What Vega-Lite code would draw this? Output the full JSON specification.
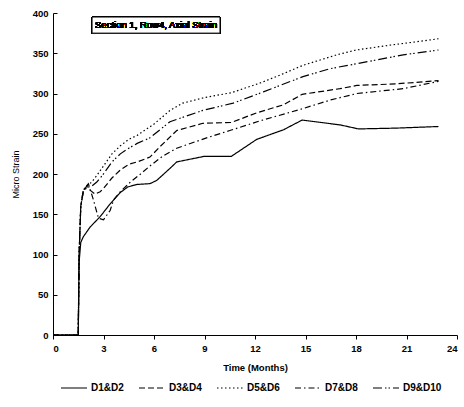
{
  "$schema": "https://vega.github.io/schema/vega-lite/v6.json",
  "width": 404,
  "height": 322,
  "autosize": "none",
  "padding": {"left": 53, "top": 13, "right": 7, "bottom": 72},
  "config": {
    "view": {"stroke": null},
    "font": "Liberation Sans",
    "axis": {"grid": false, "domainColor": "black", "tickColor": "black", "labelColor": "black", "titleColor": "black", "labelFont": "Liberation Sans", "titleFont": "Liberation Sans"}
  },
  "data": {
    "values": [
      {"s": "D1&D2", "t": 0, "v": 0}, {"s": "D1&D2", "t": 1.5, "v": 0}, {"s": "D1&D2", "t": 1.55, "v": 90}, {"s": "D1&D2", "t": 1.65, "v": 115}, {"s": "D1&D2", "t": 1.8, "v": 122}, {"s": "D1&D2", "t": 2.2, "v": 134}, {"s": "D1&D2", "t": 2.8, "v": 147}, {"s": "D1&D2", "t": 3.4, "v": 163}, {"s": "D1&D2", "t": 4.0, "v": 177}, {"s": "D1&D2", "t": 4.45, "v": 184}, {"s": "D1&D2", "t": 5.0, "v": 187}, {"s": "D1&D2", "t": 5.76, "v": 188}, {"s": "D1&D2", "t": 6.16, "v": 192}, {"s": "D1&D2", "t": 6.95, "v": 207}, {"s": "D1&D2", "t": 7.35, "v": 215}, {"s": "D1&D2", "t": 9.0, "v": 222}, {"s": "D1&D2", "t": 10.6, "v": 222}, {"s": "D1&D2", "t": 12.1, "v": 243}, {"s": "D1&D2", "t": 13.7, "v": 255}, {"s": "D1&D2", "t": 14.8, "v": 267}, {"s": "D1&D2", "t": 17.05, "v": 261}, {"s": "D1&D2", "t": 18.15, "v": 256}, {"s": "D1&D2", "t": 20.4, "v": 257}, {"s": "D1&D2", "t": 22.9, "v": 259},
      {"s": "D3&D4", "t": 0, "v": 0}, {"s": "D3&D4", "t": 1.5, "v": 0}, {"s": "D3&D4", "t": 1.55, "v": 100}, {"s": "D3&D4", "t": 1.65, "v": 160}, {"s": "D3&D4", "t": 1.8, "v": 178}, {"s": "D3&D4", "t": 2.0, "v": 185}, {"s": "D3&D4", "t": 2.2, "v": 180}, {"s": "D3&D4", "t": 2.5, "v": 175}, {"s": "D3&D4", "t": 2.8, "v": 178}, {"s": "D3&D4", "t": 3.0, "v": 182}, {"s": "D3&D4", "t": 3.5, "v": 195}, {"s": "D3&D4", "t": 4.0, "v": 205}, {"s": "D3&D4", "t": 4.5, "v": 212}, {"s": "D3&D4", "t": 5.0, "v": 215}, {"s": "D3&D4", "t": 5.76, "v": 221}, {"s": "D3&D4", "t": 6.36, "v": 234}, {"s": "D3&D4", "t": 7.35, "v": 254}, {"s": "D3&D4", "t": 8.9, "v": 263}, {"s": "D3&D4", "t": 10.6, "v": 264}, {"s": "D3&D4", "t": 12.1, "v": 276}, {"s": "D3&D4", "t": 13.7, "v": 286}, {"s": "D3&D4", "t": 14.8, "v": 299}, {"s": "D3&D4", "t": 17.05, "v": 306}, {"s": "D3&D4", "t": 18.05, "v": 310}, {"s": "D3&D4", "t": 20.4, "v": 312}, {"s": "D3&D4", "t": 22.9, "v": 316},
      {"s": "D5&D6", "t": 0, "v": 0}, {"s": "D5&D6", "t": 1.5, "v": 0}, {"s": "D5&D6", "t": 1.55, "v": 100}, {"s": "D5&D6", "t": 1.65, "v": 160}, {"s": "D5&D6", "t": 1.8, "v": 180}, {"s": "D5&D6", "t": 2.0, "v": 185}, {"s": "D5&D6", "t": 2.3, "v": 190}, {"s": "D5&D6", "t": 2.6, "v": 198}, {"s": "D5&D6", "t": 3.0, "v": 210}, {"s": "D5&D6", "t": 3.5, "v": 225}, {"s": "D5&D6", "t": 4.0, "v": 235}, {"s": "D5&D6", "t": 4.5, "v": 243}, {"s": "D5&D6", "t": 5.0, "v": 248}, {"s": "D5&D6", "t": 5.5, "v": 255}, {"s": "D5&D6", "t": 6.0, "v": 262}, {"s": "D5&D6", "t": 6.95, "v": 279}, {"s": "D5&D6", "t": 7.7, "v": 288}, {"s": "D5&D6", "t": 9.0, "v": 295}, {"s": "D5&D6", "t": 10.6, "v": 301}, {"s": "D5&D6", "t": 12.3, "v": 313}, {"s": "D5&D6", "t": 13.5, "v": 323}, {"s": "D5&D6", "t": 14.85, "v": 335}, {"s": "D5&D6", "t": 16.85, "v": 348}, {"s": "D5&D6", "t": 18.0, "v": 354}, {"s": "D5&D6", "t": 20.0, "v": 360}, {"s": "D5&D6", "t": 21.5, "v": 364}, {"s": "D5&D6", "t": 22.9, "v": 368},
      {"s": "D7&D8", "t": 0, "v": 0}, {"s": "D7&D8", "t": 1.5, "v": 0}, {"s": "D7&D8", "t": 1.55, "v": 100}, {"s": "D7&D8", "t": 1.65, "v": 160}, {"s": "D7&D8", "t": 1.8, "v": 180}, {"s": "D7&D8", "t": 2.1, "v": 188}, {"s": "D7&D8", "t": 2.4, "v": 168}, {"s": "D7&D8", "t": 2.7, "v": 145}, {"s": "D7&D8", "t": 3.0, "v": 143}, {"s": "D7&D8", "t": 3.4, "v": 155}, {"s": "D7&D8", "t": 3.6, "v": 168}, {"s": "D7&D8", "t": 4.0, "v": 178}, {"s": "D7&D8", "t": 4.6, "v": 190}, {"s": "D7&D8", "t": 5.2, "v": 200}, {"s": "D7&D8", "t": 5.76, "v": 210}, {"s": "D7&D8", "t": 6.5, "v": 222}, {"s": "D7&D8", "t": 7.35, "v": 232}, {"s": "D7&D8", "t": 9.0, "v": 244}, {"s": "D7&D8", "t": 10.5, "v": 254}, {"s": "D7&D8", "t": 12.3, "v": 266}, {"s": "D7&D8", "t": 14.8, "v": 281}, {"s": "D7&D8", "t": 16.5, "v": 292}, {"s": "D7&D8", "t": 18.05, "v": 300}, {"s": "D7&D8", "t": 20.8, "v": 306}, {"s": "D7&D8", "t": 22.9, "v": 315},
      {"s": "D9&D10", "t": 0, "v": 0}, {"s": "D9&D10", "t": 1.5, "v": 0}, {"s": "D9&D10", "t": 1.55, "v": 100}, {"s": "D9&D10", "t": 1.65, "v": 160}, {"s": "D9&D10", "t": 1.8, "v": 178}, {"s": "D9&D10", "t": 2.0, "v": 183}, {"s": "D9&D10", "t": 2.3, "v": 185}, {"s": "D9&D10", "t": 2.6, "v": 190}, {"s": "D9&D10", "t": 3.0, "v": 200}, {"s": "D9&D10", "t": 3.5, "v": 215}, {"s": "D9&D10", "t": 4.0, "v": 225}, {"s": "D9&D10", "t": 4.5, "v": 232}, {"s": "D9&D10", "t": 5.0, "v": 238}, {"s": "D9&D10", "t": 5.76, "v": 245}, {"s": "D9&D10", "t": 6.95, "v": 265}, {"s": "D9&D10", "t": 8.9, "v": 279}, {"s": "D9&D10", "t": 10.7, "v": 288}, {"s": "D9&D10", "t": 12.5, "v": 302}, {"s": "D9&D10", "t": 14.85, "v": 321}, {"s": "D9&D10", "t": 16.5, "v": 331}, {"s": "D9&D10", "t": 18.05, "v": 337}, {"s": "D9&D10", "t": 20.8, "v": 348}, {"s": "D9&D10", "t": 22.9, "v": 354}
    ]
  },
  "layer": [
    {
      "mark": {"type": "line", "strokeWidth": 1.2, "color": "black"},
      "encoding": {
        "x": {
          "field": "t", "type": "quantitative",
          "scale": {"domain": [0, 24], "nice": false, "zero": false},
          "axis": {"values": [0, 3, 6, 9, 12, 15, 18, 21, 24], "title": "Time (Months)", "labelFontSize": 9.5, "labelFontWeight": "bold", "titleFontSize": 9.5, "titleFontWeight": "bold", "tickSize": 4, "labelPadding": 4, "titlePadding": 10}
        },
        "y": {
          "field": "v", "type": "quantitative",
          "scale": {"domain": [0, 400], "nice": false},
          "axis": {"values": [0, 50, 100, 150, 200, 250, 300, 350, 400], "title": "Micro Strain", "labelFontSize": 9.5, "labelFontWeight": "bold", "titleFontSize": 9, "titleFontWeight": "normal", "tickSize": -4, "labelPadding": 9, "titlePadding": 12}
        },
        "strokeDash": {
          "field": "s", "type": "nominal",
          "scale": {
            "domain": ["D1&D2", "D3&D4", "D5&D6", "D7&D8", "D9&D10"],
            "range": [[1, 0], [6, 3], [1.5, 2.5], [6, 3, 1.5, 3], [9, 3, 1.5, 2, 1.5, 3]]
          },
          "legend": {
            "orient": "none", "legendX": 7, "legendY": 361, "direction": "horizontal", "title": null,
            "symbolType": "stroke", "symbolSize": 676, "symbolStrokeColor": "black", "symbolStrokeWidth": 1.2,
            "labelFontSize": 10, "labelFontWeight": "bold", "labelColor": "black", "labelOffset": 3, "columnPadding": 12
          }
        }
      }
    },
    {
      "mark": {"type": "rect", "filled": true, "fill": "#ffffff", "fillOpacity": 1, "stroke": "#000000", "strokeWidth": 1},
      "encoding": {"x": {"datum": 2.32}, "x2": {"datum": 9.92}, "y": {"datum": 395}, "y2": {"datum": 375}}
    },
    {
      "mark": {"type": "text", "fontSize": 9.5, "fontWeight": "normal", "fill": "#000000", "font": "Liberation Sans", "align": "center", "baseline": "middle"},
      "encoding": {"x": {"datum": 6.12}, "y": {"datum": 385}, "text": {"value": "Section 1, Row4, Axial Strain"}}
    }
  ]
}
